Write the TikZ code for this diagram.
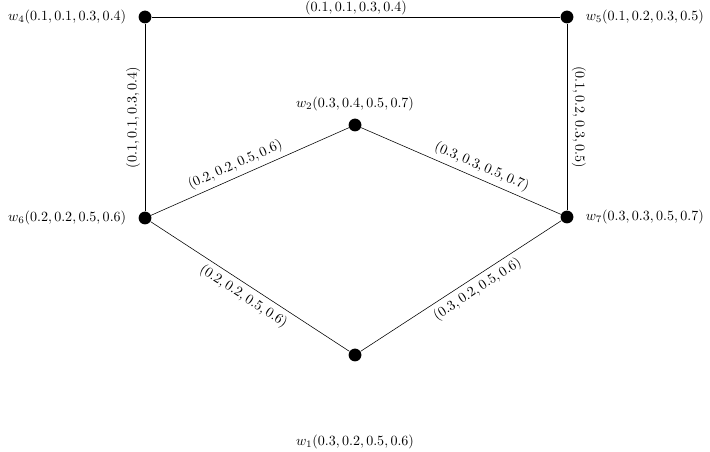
\documentclass[tikz,border=0pt]{standalone}
\usepackage{amsmath,amssymb}
\usepackage{tikz}
\usetikzlibrary{positioning}

\begin{document}
\begin{tikzpicture}[vtx/.style={circle,fill=black,inner sep=0pt,minimum size=0.32cm},
  every node/.style={font=\fontsize{10.4pt}{12pt}\selectfont},
  label distance=0.18cm]
\useasboundingbox (0,0) rectangle (17.75,11.3);
% vertices
\node[vtx,label=left:{$w_4(0.1,0.1,0.3,0.4)$}] (w4) at (3.625,10.875) {};
\node[vtx,label=right:{$w_5(0.1,0.2,0.3,0.5)$}] (w5) at (14.175,10.875) {};
\node[vtx,label={[label distance=0.05cm]above:{$w_2(0.3,0.4,0.5,0.7)$}}] (w2) at (8.875,8.175) {};
\node[vtx,label=left:{$w_6(0.2,0.2,0.5,0.6)$}] (w6) at (3.625,5.85) {};
\node[vtx,label=right:{$w_7(0.3,0.3,0.5,0.7)$}] (w7) at (14.175,5.875) {};
\node[vtx,label={[label distance=1.7cm]below:{$w_1(0.3,0.2,0.5,0.6)$}}] (w1) at (8.875,2.425) {};
% edges
\draw (w4) -- node[above,inner sep=1.5pt] {$(0.1,0.1,0.3,0.4)$} (w5);
\draw (w6) -- node[sloped,above] {$(0.1,0.1,0.3,0.4)$} (w4);
\draw (w5) -- node[sloped,above] {$(0.1,0.2,0.3,0.5)$} (w7);
\draw (w6) -- node[sloped,above,pos=0.45] {$(0.2,0.2,0.5,0.6)$} (w2);
\draw (w2) -- node[sloped,above,pos=0.58] {$(0.3,0.3,0.5,0.7)$} (w7);
\draw (w6) -- node[sloped,below] {$(0.2,0.2,0.5,0.6)$} (w1);
\draw (w1) -- node[sloped,below,pos=0.55] {$(0.3,0.2,0.5,0.6)$} (w7);
\end{tikzpicture}
\end{document}
